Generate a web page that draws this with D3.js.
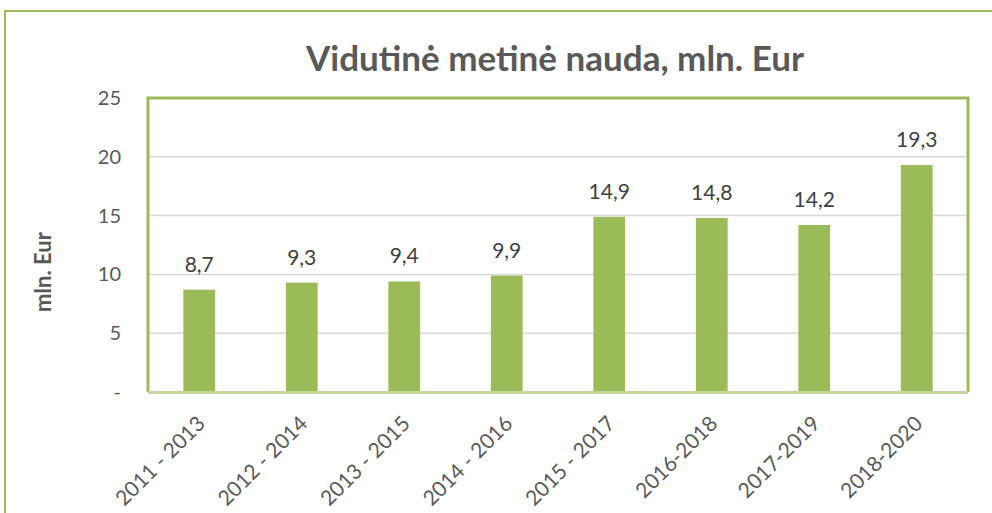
<!DOCTYPE html>
<html><head><meta charset="utf-8">
<script src="https://cdn.jsdelivr.net/npm/d3@7"></script>
<style>body{margin:0;background:#fff;} svg{display:block;}</style>
</head><body>
<svg id="c" width="992" height="513"></svg>
<script>
const categories = ["2011 - 2013","2012 - 2014","2013 - 2015","2014 - 2016","2015 - 2017","2016-2018","2017-2019","2018-2020"];
const values = [8.7, 9.3, 9.4, 9.9, 14.9, 14.8, 14.2, 19.3];
const valueLabels = ["8,7","9,3","9,4","9,9","14,9","14,8","14,2","19,3"];
const yTicks = [0, 5, 10, 15, 20, 25];
const yTickLabels = ["-", "5", "10", "15", "20", "25"];
const title = "Vidutinė metinė nauda, mln. Eur";
const yTitle = "mln. Eur";

const svg = d3.select("#c");
const font = "Lato, 'Open Sans', sans-serif";
const green = "#9BBB59";
const txt = "#595959";

// outer chart border
svg.append("path").attr("d","M5,513 V11 H992").attr("fill","none").attr("stroke","#9BBB59").attr("stroke-width",2);

const m = {l:148, r:968, t:98, b:392};
const x = d3.scaleBand().domain(categories).range([m.l, m.r]).paddingInner(0.69).paddingOuter(0.345);
const y = d3.scaleLinear().domain([0,25]).range([m.b, m.t]);

// gridlines
svg.append("g").selectAll("line").data(yTicks.filter(d=>d>0 && d<25)).join("line")
  .attr("x1",m.l).attr("x2",m.r).attr("y1",d=>y(d)).attr("y2",d=>y(d))
  .attr("stroke","#d9d9d9").attr("stroke-width",1.5);

// bars
svg.append("g").selectAll("rect").data(values).join("rect")
  .attr("x",(d,i)=>x(categories[i])).attr("width",x.bandwidth())
  .attr("y",d=>y(d)).attr("height",d=>y(0)-y(d)).attr("fill",green);

// plot area border
svg.append("path").attr("d",`M${m.l},${m.b} V${m.t} H${m.r} V${m.b}`).attr("fill","none").attr("stroke",green).attr("stroke-width",3);
svg.append("line").attr("x1",m.l).attr("x2",m.r).attr("y1",m.b+0.5).attr("y2",m.b+0.5).attr("stroke","#c4d79b").attr("stroke-width",3);

// y axis tick labels
const yAxis = d3.axisLeft(y).tickValues(yTicks).tickFormat((d,i)=>yTickLabels[i]).tickSize(0).tickPadding(0);
const ya = svg.append("g").attr("transform",`translate(121,0)`).call(yAxis);
ya.select(".domain").remove();
ya.selectAll("text").attr("font-family",font).attr("font-size",20).attr("fill",txt);

// x axis labels
const xAxis = d3.axisBottom(x).tickSize(0).tickPadding(0);
const xa = svg.append("g").attr("transform",`translate(0,${m.b})`).call(xAxis);
xa.select(".domain").remove();
xa.selectAll("text").attr("font-family",font).attr("font-size",21).attr("fill",txt)
  .attr("text-anchor","end").attr("dy",null).attr("y",0)
  .attr("transform","translate(7,33) rotate(-45)");

// value labels
svg.append("g").selectAll("text").data(values).join("text")
  .attr("x",(d,i)=>x(categories[i])+x.bandwidth()/2).attr("y",d=>y(d)-18)
  .attr("text-anchor","middle").attr("font-family",font).attr("font-size",21).attr("fill","#404040")
  .text((d,i)=>valueLabels[i]);

// title
svg.append("text").attr("x",555).attr("y",71).attr("text-anchor","middle")
  .attr("font-family",font).attr("font-weight","bold").attr("font-size",35).attr("fill",txt).text(title);

// y title
svg.append("text").attr("transform","translate(51,272) rotate(-90)").attr("text-anchor","middle")
  .attr("font-family",font).attr("font-weight","bold").attr("font-size",22).attr("fill",txt).text(yTitle);
</script>
</body></html>
